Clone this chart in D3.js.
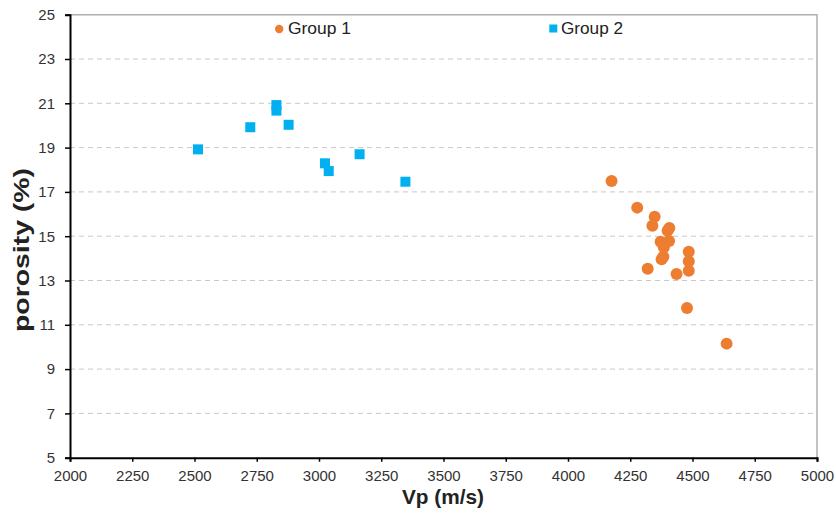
<!DOCTYPE html>
<html><head><meta charset="utf-8">
<script src="https://cdn.jsdelivr.net/npm/d3@7"></script>
<style>body{margin:0;background:#fff;font-family:"Liberation Sans",Arial,sans-serif;}</style>
</head><body><svg id="c" width="836" height="514"></svg>
<script>
const group1Vp = [4175,4278,4348,4339,4407,4400,4372,4406,4385,4383,4376,4485,4485,4485,4436,4320,4478,4637];
const group1Por = [17.49,16.29,15.88,15.47,15.37,15.25,14.75,14.78,14.5,14.07,13.96,14.3,13.87,13.44,13.29,13.53,11.76,10.15];
const group2Vp = [2514,2724,2829,2829,2878,3024,3039,3163,3347];
const group2Por = [18.92,19.92,20.92,20.67,20.03,18.29,17.94,18.70,17.46];
const xTicks = [2000,2250,2500,2750,3000,3250,3500,3750,4000,4250,4500,4750,5000];
const yTicks = [5,7,9,11,13,15,17,19,21,23,25];
const seriesNames = ["Group 1","Group 2"];
const colors = ["#ED7D31","#00B0F0"];

const svg = d3.select("#c");
const L=70,R=817,T=14.7,B=457.7;
const x = d3.scaleLinear().domain([2000,5000]).range([L,R]);
const y = d3.scaleLinear().domain([5,25]).range([B,T]);

// gridlines
svg.append("g").selectAll("line").data(yTicks.filter(v=>v>5&&v<25)).join("line")
  .attr("x1",L).attr("x2",R).attr("y1",d=>y(d)).attr("y2",d=>y(d))
  .attr("stroke","#c8c8c8").attr("stroke-width",1).attr("stroke-dasharray","5,4");
// top/right border
svg.append("path").attr("d",`M${L},${y(25)}H${R}V${B}`).attr("fill","none").attr("stroke","#b0b0b0").attr("stroke-width",1.5);

const xa = svg.append("g").attr("transform",`translate(0,${B})`)
  .call(d3.axisBottom(x).tickValues(xTicks).tickSize(4).tickPadding(9).tickFormat(d3.format("d")));
const ya = svg.append("g").attr("transform",`translate(${L},0)`)
  .call(d3.axisLeft(y).tickValues(yTicks).tickSize(5).tickPadding(10).tickFormat(d3.format("d")));
[xa,ya].forEach(a=>{
  a.select(".domain").attr("stroke","#000").attr("stroke-width",2);
  a.selectAll(".tick line").attr("stroke","#000").attr("stroke-width",1.5);
  a.selectAll(".tick text").attr("fill","#333").attr("font-size","15px").attr("font-family","Liberation Sans, Arial, sans-serif");
});

// series 2 squares
const s=10;
svg.append("g").selectAll("rect").data(group2Vp.map((v,i)=>[v,group2Por[i]])).join("rect")
  .attr("x",d=>x(d[0])-s/2).attr("y",d=>y(d[1])-s/2).attr("width",s).attr("height",s)
  .attr("fill",colors[1]);
// series 1 circles
svg.append("g").selectAll("circle").data(group1Vp.map((v,i)=>[v,group1Por[i]])).join("circle")
  .attr("cx",d=>x(d[0])).attr("cy",d=>y(d[1])).attr("r",6)
  .attr("fill",colors[0]);

// legend
svg.append("circle").attr("cx",279.2).attr("cy",29).attr("r",4.2).attr("fill",colors[0]);
svg.append("text").attr("x",288).attr("y",33.5).attr("font-size","16px").attr("fill","#222")
  .attr("textLength",63).attr("lengthAdjust","spacingAndGlyphs").text(seriesNames[0]);
svg.append("rect").attr("x",549.3).attr("y",24.5).attr("width",8).attr("height",8).attr("fill",colors[1]);
svg.append("text").attr("x",561).attr("y",33.5).attr("font-size","16px").attr("fill","#222")
  .attr("textLength",62).attr("lengthAdjust","spacingAndGlyphs").text(seriesNames[1]);

// axis titles
svg.append("text").attr("x",443).attr("y",504).attr("text-anchor","middle")
  .attr("font-size","21px").attr("font-weight","bold").attr("fill","#222")
  .attr("textLength",82).attr("lengthAdjust","spacingAndGlyphs").text("Vp (m/s)");
svg.append("text").attr("transform",`translate(29,250) rotate(-90)`).attr("text-anchor","middle")
  .attr("font-size","22px").attr("font-weight","bold").attr("fill","#222")
  .attr("textLength",164).attr("lengthAdjust","spacingAndGlyphs").text("porosity (%)");
</script></body></html>
